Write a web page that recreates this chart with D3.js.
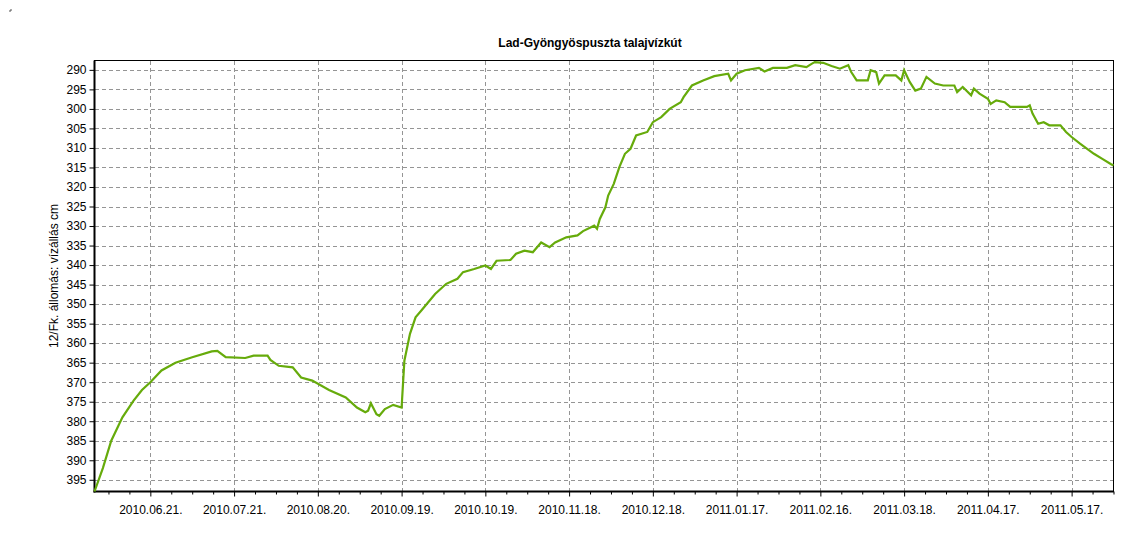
<!DOCTYPE html>
<html>
<head>
<meta charset="utf-8">
<script src="https://cdn.jsdelivr.net/npm/d3@7"></script>
<style>
  html, body { margin: 0; padding: 0; background: #ffffff; }
  svg { display: block; }
  text { font-family: "Liberation Sans", Arial, sans-serif; fill: #000; }
</style>
</head>
<body>
<svg id="chart" width="1135" height="554"></svg>
<script>
// ---- data ----
const title = "Lad-Gyöngyöspuszta talajvízkút";
const yTitle = "12/Fk. állomás: vízállás cm";
const dates = [
  "2010-06-01","2010-06-04","2010-06-07","2010-06-11","2010-06-15","2010-06-18","2010-06-21","2010-06-25",
  "2010-06-30","2010-07-06","2010-07-13","2010-07-15","2010-07-18","2010-07-25","2010-07-28","2010-08-02",
  "2010-08-03","2010-08-06","2010-08-11","2010-08-14","2010-08-18","2010-08-24","2010-08-30","2010-09-03",
  "2010-09-06","2010-09-07","2010-09-08","2010-09-10","2010-09-11","2010-09-13","2010-09-16","2010-09-19",
  "2010-09-20","2010-09-22","2010-09-24","2010-09-26","2010-10-01","2010-10-05","2010-10-09","2010-10-11",
  "2010-10-15","2010-10-19","2010-10-21","2010-10-23","2010-10-28","2010-10-30","2010-11-02","2010-11-05",
  "2010-11-08","2010-11-11","2010-11-13","2010-11-17","2010-11-21","2010-11-23","2010-11-27","2010-11-28",
  "2010-11-29","2010-12-01","2010-12-02","2010-12-04","2010-12-06","2010-12-08","2010-12-10","2010-12-12",
  "2010-12-16","2010-12-18","2010-12-21","2010-12-24","2010-12-28","2010-12-29","2011-01-01","2011-01-05",
  "2011-01-09","2011-01-14","2011-01-15","2011-01-17","2011-01-20","2011-01-25","2011-01-27","2011-01-30",
  "2011-02-04","2011-02-07","2011-02-11","2011-02-13","2011-02-14","2011-02-17","2011-02-20","2011-02-23",
  "2011-02-26","2011-02-27","2011-03-01","2011-03-05","2011-03-06","2011-03-08","2011-03-09","2011-03-11",
  "2011-03-15","2011-03-17","2011-03-18","2011-03-20","2011-03-22","2011-03-24","2011-03-26","2011-03-29",
  "2011-04-01","2011-04-05","2011-04-06","2011-04-08","2011-04-11","2011-04-12","2011-04-14","2011-04-17",
  "2011-04-18","2011-04-20","2011-04-23","2011-04-25","2011-05-01","2011-05-02","2011-05-03","2011-05-05",
  "2011-05-07","2011-05-09","2011-05-13","2011-05-15","2011-05-17","2011-05-20","2011-05-25","2011-05-28",
  "2011-05-31","2011-06-01"
];
const levels = [
  398,392,385,379,374.7,372,370,367,
  365,363.6,362.1,362,363.6,363.8,363.2,363.2,
  364.3,365.8,366.2,368.8,369.6,372,373.9,376.5,
  377.7,377.3,375.4,378.2,378.6,376.9,375.8,376.5,
  364.5,357.6,353.4,351.7,347.4,344.8,343.5,341.8,
  341,340.1,341,338.9,338.7,337.1,336.3,336.7,
  334.2,335.4,334.2,332.9,332.4,331.3,329.9,330.7,
  328.2,325.2,322.2,319.2,314.9,311.5,310.2,306.8,
  305.9,303.4,302.1,300,298.3,297,294,292.7,
  291.6,291,292.7,291,290.1,289.5,290.4,289.5,
  289.5,288.8,289.3,288.4,288,288.2,289,289.7,
  288.8,290.5,292.7,292.7,290.1,290.6,293.5,291.4,
  291.4,292.7,290.1,293.1,295.3,294.8,291.8,293.5,
  294,294,295.7,294.4,296.5,294.8,296.1,297.4,
  298.7,297.8,298.3,299.5,299.5,299.1,301.2,303.8,
  303.4,304.2,304.2,305.9,307.2,308.9,311.5,312.8,
  314.1,314.5
];
const yTicks = [290,295,300,305,310,315,320,325,330,335,340,345,350,355,360,365,370,375,380,385,390,395];
const xTickLabels = ["2010.06.21.","2010.07.21.","2010.08.20.","2010.09.19.","2010.10.19.","2010.11.18.",
  "2010.12.18.","2011.01.17.","2011.02.16.","2011.03.18.","2011.04.17.","2011.05.17."];
const xDomain = ["2010-06-01","2011-06-01"];
const yDomain = [287.6, 398];

// ---- layout ----
const parse = d3.timeParse("%Y-%m-%d");
const parseLbl = d3.timeParse("%Y.%m.%d.");
const L = 94.5, R = 1113.5, T = 60.5, B = 491.5;
const svg = d3.select("#chart");

const x = d3.scaleTime().domain(xDomain.map(parse)).range([L, R]);
const y = d3.scaleLinear().domain(yDomain).range([T, B]);

const majorDates = xTickLabels.map(parseLbl);
// minor ticks: quarters of the 30-day major step
const minorDates = [];
const step = 7.5 * 864e5;
const first = majorDates[0].getTime();
for (let k = -3; k <= 4 * (majorDates.length - 1) + 3; k++) {
  if (k % 4 === 0) continue;
  const t = new Date(first + k * step);
  if (t >= x.domain()[0] && t <= x.domain()[1]) minorDates.push(t);
}

// title
svg.append("text").attr("x", 590).attr("y", 47).attr("text-anchor", "middle")
  .style("font-size", "12px").style("font-weight", "bold").text(title);

// y title
svg.append("text").attr("transform", `translate(58,${(T + B) / 2}) rotate(-90)`)
  .attr("text-anchor", "middle").style("font-size", "12px").text(yTitle);

// grid
const grid = svg.append("g").attr("stroke", "#959595").attr("stroke-width", 1)
  .attr("stroke-dasharray", "4,3").attr("shape-rendering", "crispEdges");
grid.selectAll("line.h").data(yTicks).join("line").attr("class", "h")
  .attr("x1", L).attr("x2", R).attr("y1", d => Math.round(y(d)) + 0.5).attr("y2", d => Math.round(y(d)) + 0.5);
grid.selectAll("line.v").data(majorDates).join("line").attr("class", "v")
  .attr("y1", T).attr("y2", B).attr("x1", d => Math.round(x(d)) + 0.5).attr("x2", d => Math.round(x(d)) + 0.5);

// frame (top & right thin)
svg.append("rect").attr("x", L).attr("y", T).attr("width", R - L).attr("height", B - T)
  .attr("fill", "none").attr("stroke", "#000").attr("stroke-width", 1).attr("shape-rendering", "crispEdges");

// y axis
const yAxis = d3.axisLeft(y).tickValues(yTicks).tickSize(5).tickPadding(3).tickFormat(d3.format("d"));
const gy = svg.append("g").attr("transform", `translate(${L},0)`).call(yAxis);
gy.select(".domain").remove();
gy.selectAll("text").style("font-size", "12px").style("font-family", "'Liberation Sans', Arial, sans-serif").attr("fill", "#000");
gy.selectAll("line").attr("stroke", "#000");

// x axis major
const xAxis = d3.axisBottom(x).tickValues(majorDates).tickSize(5).tickPadding(9)
  .tickFormat(d3.timeFormat("%Y.%m.%d."));
const gx = svg.append("g").attr("transform", `translate(0,${B})`).call(xAxis);
gx.select(".domain").remove();
gx.selectAll("text").style("font-size", "12px").style("font-family", "'Liberation Sans', Arial, sans-serif").attr("fill", "#000");
gx.selectAll("line").attr("stroke", "#000");

// x axis minor
const xMinor = d3.axisBottom(x).tickValues(minorDates).tickSize(3).tickFormat("");
const gxm = svg.append("g").attr("transform", `translate(0,${B})`).call(xMinor);
gxm.select(".domain").remove();
gxm.selectAll("line").attr("stroke", "#000");

// thick left and bottom axes
svg.append("line").attr("x1", L).attr("x2", L).attr("y1", T).attr("y2", B + 1)
  .attr("stroke", "#000").attr("stroke-width", 2);
svg.append("line").attr("x1", L - 1).attr("x2", R + 0.5).attr("y1", B).attr("y2", B)
  .attr("stroke", "#000").attr("stroke-width", 2);

// series
const data = dates.map((d, i) => ({ date: parse(d), v: levels[i] }));
const line = d3.line().x(d => x(d.date)).y(d => y(d.v)).curve(d3.curveLinear);
svg.append("path").datum(data).attr("d", line).attr("fill", "none")
  .attr("stroke", "#66ab0b").attr("stroke-width", 2.2).attr("stroke-linejoin", "miter");

// small stray mark in the top-left corner
svg.append("path").attr("d", "M9,11 L11,11 L11,9").attr("fill", "none").attr("stroke", "#555").attr("stroke-width", 1);
</script>
</body>
</html>
